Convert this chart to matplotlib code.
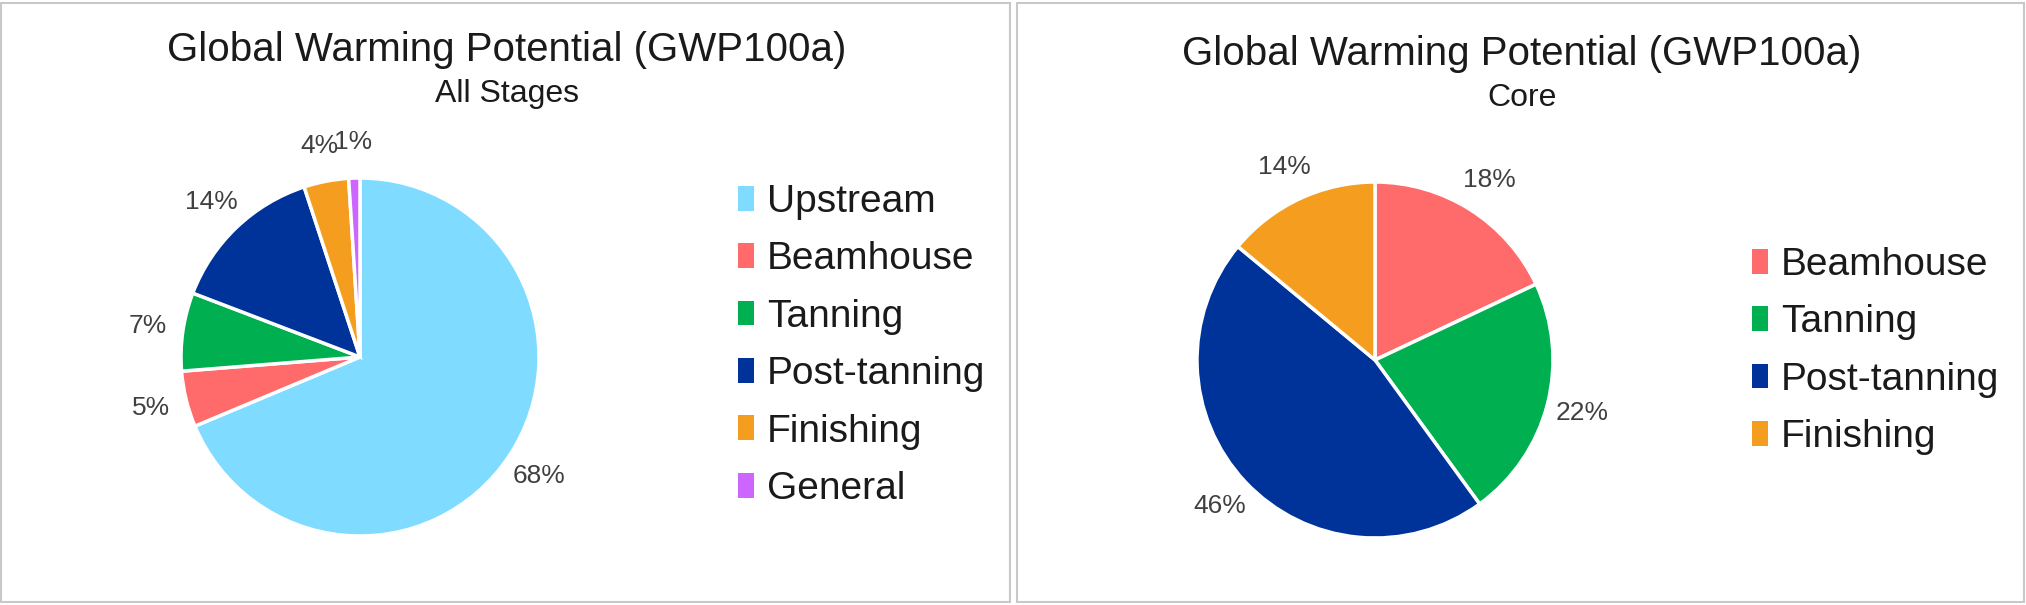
import matplotlib.pyplot as plt
from matplotlib.patches import Patch, Rectangle

# data
all_labels = ["Upstream", "Beamhouse", "Tanning", "Post-tanning", "Finishing", "General"]
all_values = [68, 5, 7, 14, 4, 1]
core_labels = ["Beamhouse", "Tanning", "Post-tanning", "Finishing"]
core_values = [18, 22, 46, 14]

colors = {
    "Upstream": "#7fdbff",
    "Beamhouse": "#ff6b6b",
    "Tanning": "#00b050",
    "Post-tanning": "#003399",
    "Finishing": "#f59d1e",
    "General": "#cc66ff",
}

plt.rcParams["font.family"] = ["Liberation Sans", "DejaVu Sans"]

W, H = 2026, 605
fig = plt.figure(figsize=(W / 100, H / 100), dpi=100)

# panel borders
for x0, x1 in [(1, 1010), (1017, 2024)]:
    fig.patches.append(Rectangle((x0 / W, 3 / H), (x1 - x0) / W, (H - 6) / H,
                                 transform=fig.transFigure, fill=False,
                                 edgecolor="#c8c8c8", linewidth=1.5))


def draw_pie(cx, cy, r, labels, values, subtitle, title_x, title_y, leg_x, leg_y):
    half = r * 1.25  # pie uses +-1.25 limits around radius 1
    ax = fig.add_axes([(cx - half) / W, (H - cy - half) / H, 2 * half / W, 2 * half / H])
    ax.pie(values, colors=[colors[l] for l in labels], startangle=90,
           counterclock=False, autopct="%d%%", pctdistance=1.2,
           wedgeprops=dict(edgecolor="white", linewidth=2.5),
           textprops=dict(fontsize=19, color="#404040"))
    ax.set_aspect("equal")
    fig.text(title_x / W, 1 - title_y / H, "Global Warming Potential (GWP100a)",
             ha="center", va="center", fontsize=29, color="#1a1a1a")
    fig.text(title_x / W, 1 - (title_y + 44) / H, subtitle, ha="center", va="center",
             fontsize=23, color="#1a1a1a")
    handles = [Patch(facecolor=colors[l], label=l) for l in labels]
    fig.legend(handles=handles, loc="upper left", bbox_to_anchor=(leg_x / W, 1 - leg_y / H),
               frameon=False, fontsize=28, handlelength=0.4, handleheight=0.6,
               handletextpad=0.35, labelspacing=0.55, borderaxespad=0, borderpad=0,
               labelcolor="#1a1a1a")


draw_pie(360, 357, 179, all_labels, all_values, "All Stages", 507, 50, 738, 184)
draw_pie(1375, 360, 178, core_labels, core_values, "Core", 1522, 54, 1752, 247)

fig.savefig("out.png", dpi=100)
